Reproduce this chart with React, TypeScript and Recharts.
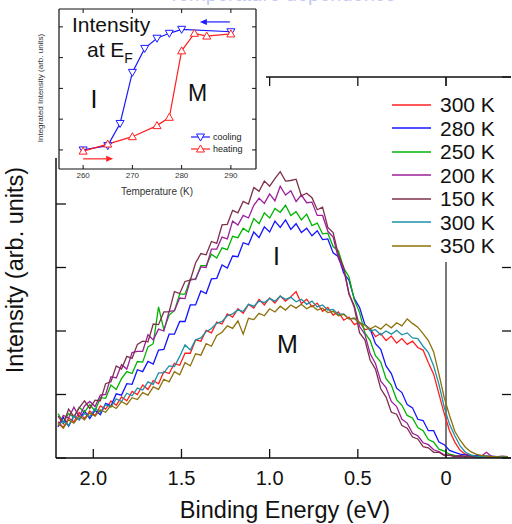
import React from 'react';
import { LineChart, Line, XAxis, YAxis, ReferenceLine, Legend } from 'recharts';

const FONT = '"Liberation Sans", Arial, Helvetica, sans-serif';

// ---------- main panel data ----------
const energy = [2.20,2.17,2.14,2.11,2.08,2.05,2.02,1.99,1.96,1.93,1.90,1.87,1.84,1.81,1.78,1.75,1.72,1.69,1.66,1.63,1.60,1.57,1.54,1.51,1.48,1.45,1.42,1.39,1.36,1.33,1.30,1.27,1.24,1.21,1.18,1.15,1.12,1.09,1.06,1.03,1.00,0.97,0.94,0.91,0.88,0.85,0.82,0.79,0.76,0.73,0.70,0.67,0.64,0.61,0.58,0.55,0.52,0.49,0.46,0.43,0.40,0.37,0.34,0.31,0.28,0.25,0.22,0.19,0.16,0.13,0.10,0.07,0.04,0.01,-0.02,-0.05,-0.08,-0.11,-0.14,-0.17,-0.20,-0.23,-0.26,-0.29,-0.32,-0.35];

const s300a = [0.57,0.48,0.63,0.57,0.72,0.62,0.74,0.67,0.82,0.77,
0.90,0.83,0.96,0.90,1.05,1.00,1.15,1.08,1.22,1.17,
1.36,1.33,1.49,1.46,1.65,1.65,1.86,1.84,2.01,1.97,
2.14,2.11,2.27,2.22,2.35,2.28,2.42,2.36,2.50,2.41,
2.52,2.44,2.55,2.47,2.54,2.62,2.43,2.50,2.38,2.44,
2.31,2.37,2.25,2.30,2.17,2.22,2.10,2.14,2.02,2.04,
1.91,1.96,1.85,1.92,1.81,1.88,1.79,1.84,1.74,1.70,
1.50,1.32,1.01,0.70,0.43,0.25,0.12,0.06,0.04,0.02,
0.03,0.02,0.02,0.01,0.02,0.02];

const s280 = [0.49,0.64,0.50,0.66,0.60,0.74,0.62,0.75,0.68,0.86,
0.82,1.01,0.99,1.17,1.16,1.39,1.36,1.52,1.48,1.70,
1.71,1.95,1.95,2.15,2.15,2.41,2.41,2.63,2.59,2.82,
2.83,3.04,2.99,3.18,3.17,3.39,3.36,3.56,3.47,3.64,
3.56,3.73,3.63,3.75,3.60,3.69,3.55,3.62,3.50,3.58,
3.44,3.45,3.23,3.17,2.91,2.80,2.51,2.37,2.10,2.03,
1.80,1.71,1.45,1.33,1.10,1.03,0.84,0.79,0.61,0.59,
0.43,0.43,0.25,0.21,0.12,0.09,0.06,0.05,0.03,0.04,
0.03,0.02,0.03,0.02,0.01,0.02];

const s250 = [0.70,0.56,0.70,0.64,0.80,0.72,0.84,0.74,0.95,0.94,
1.15,1.08,1.25,1.36,1.33,1.52,1.51,1.75,1.80,2.38,
2.02,2.25,2.32,2.58,2.58,2.82,2.81,3.03,3.03,3.21,
3.15,3.31,3.28,3.49,3.47,3.62,3.56,3.77,3.69,3.86,
3.78,3.93,3.87,3.98,3.82,3.88,3.75,3.84,3.66,3.70,
3.53,3.54,3.33,3.26,2.99,2.85,2.49,2.29,1.97,1.85,
1.61,1.51,1.25,1.15,0.92,0.83,0.67,0.63,0.48,0.43,
0.29,0.25,0.14,0.11,0.06,0.04,0.03,0.02,0.03,0.02,
0.02,0.03,0.01,0.02,0.02,0.01];

const s200 = [0.50,0.67,0.63,0.80,0.65,0.82,0.89,0.81,0.99,1.00,
1.28,1.26,1.47,1.40,1.66,1.68,1.68,1.94,1.86,2.03,
2.00,2.31,2.32,2.52,2.51,2.80,2.82,3.01,3.00,3.29,
3.29,3.48,3.45,3.73,3.67,3.82,3.78,3.98,4.09,4.01,
4.16,4.05,4.28,4.14,4.21,4.04,4.14,4.02,4.03,3.82,
3.82,3.57,3.48,3.14,2.97,2.58,2.40,2.07,1.95,1.64,
1.49,1.21,1.11,0.89,0.81,0.61,0.55,0.39,0.35,0.24,
0.21,0.13,0.10,0.05,0.04,0.03,0.02,0.03,0.02,0.02,
0.03,0.09,0.02,0.02,0.01,0.02];

const s150 = [0.66,0.54,0.77,0.65,0.79,0.90,0.78,0.91,0.90,1.17,
1.20,1.45,1.40,1.60,1.57,1.79,1.84,1.83,2.11,2.10,
2.30,2.30,2.62,2.59,2.78,2.80,3.07,3.22,3.20,3.41,
3.38,3.67,3.68,3.90,3.86,4.04,4.00,4.26,4.20,4.36,
4.28,4.40,4.51,4.36,4.37,4.39,4.13,4.17,4.10,3.91,
3.95,3.63,3.55,3.20,3.00,2.59,2.37,1.97,1.86,1.54,
1.40,1.09,0.96,0.72,0.69,0.51,0.47,0.33,0.30,0.18,
0.16,0.09,0.09,0.04,0.05,0.02,0.04,0.02,0.03,0.02,
0.01,0.03,0.02,0.02,0.03,0.02];

const s300b = [0.52,0.58,0.51,0.66,0.60,0.70,0.65,0.78,0.72,0.84,
0.80,0.93,0.89,1.02,0.98,1.10,1.07,1.20,1.16,1.34,
1.34,1.45,1.44,1.60,1.78,1.70,1.86,1.89,1.99,2.04,
2.12,2.15,2.24,2.27,2.33,2.31,2.42,2.39,2.47,2.45,
2.51,2.47,2.55,2.50,2.53,2.46,2.50,2.42,2.47,2.38,
2.41,2.33,2.34,2.26,2.27,2.19,2.20,2.12,2.10,2.00,
2.02,1.94,2.00,1.95,2.01,1.94,1.97,1.89,1.88,1.76,
1.66,1.45,1.16,0.80,0.53,0.35,0.19,0.09,0.05,0.03,
0.02,0.03,0.02,0.01,0.02,0.01];

const s350 = [0.55,0.47,0.60,0.55,0.66,0.60,0.71,0.66,0.76,0.72,
0.83,0.78,0.89,0.84,0.95,0.92,1.03,0.99,1.12,1.08,
1.24,1.20,1.36,1.31,1.50,1.45,1.64,1.62,1.80,1.76,
1.93,1.98,2.08,2.04,2.16,1.95,2.20,2.18,2.28,2.24,
2.35,2.30,2.39,2.33,2.41,2.36,2.42,2.35,2.40,2.33,
2.36,2.29,2.31,2.24,2.26,2.19,2.20,2.13,2.09,2.03,
2.08,2.03,2.11,2.05,2.13,2.08,2.19,2.12,2.06,1.96,
1.85,1.67,1.32,0.95,0.67,0.42,0.28,0.17,0.10,0.06,
0.04,0.03,0.02,0.02,0.01,0.02];

const seriesKeys = ['r300', 'b280', 'g250', 'p200', 'm150', 't300', 'o350'];
const seriesNames = ['300 K', '280 K', '250 K', '200 K', '150 K', '300 K', '350 K'];
const seriesValues = [s300a, s280, s250, s200, s150, s300b, s350];
const xTicks = [0, 0.5, 1, 1.5, 2];
const yTicks = [0, 1, 2, 3, 4, 5, 6];

// ---------- inset data ----------
const coolT = [260, 265, 267.5, 270, 272.5, 275, 277.5, 280, 290];
const coolI = [0, 0.14, 0.86, 2.52, 3.30, 3.63, 3.79, 3.92, 3.84];
const heatT = [260, 265, 270, 275, 277.5, 280, 282.6, 285.1, 290];
const heatI = [-0.04, 0.19, 0.43, 0.79, 1.06, 3.22, 3.79, 3.70, 3.77];
const insetXTicks = [260, 270, 280, 290];
const insetYTicks = [0, 1, 2, 3, 4];
const insetNames = ['cooling', 'heating'];

// ---------- styles ----------
const COLORS = ['#ff1f1f', '#1414ff', '#00b300', '#9c1f9c', '#7f3049', '#1c90a8', '#8c700a'];
const AX = '#111';
const BLUE = '#1a1aff';
const RED = '#ff2020';
const INSET_COLORS = [BLUE, RED];

const mainData = energy.map((e, i) => {
  const row: Record<string, number> = { e };
  seriesKeys.forEach((k, j) => { row[k] = seriesValues[j][i]; });
  return row;
});
const coolData = coolT.map((t, i) => ({ t, v: coolI[i] }));
const heatData = heatT.map((t, i) => ({ t, v: heatI[i] }));

const fmtX = (v: number) => (v === 0 ? '0' : v.toFixed(1));
const blank = () => '';

const DownTri = (p: any) => {
  const { cx, cy } = p;
  if (cx == null || cy == null) return <g />;
  return <path d={`M${cx - 4},${cy - 3} L${cx + 4},${cy - 3} L${cx},${cy + 4} Z`} fill="#fff" stroke={BLUE} strokeWidth={1} />;
};
const UpTri = (p: any) => {
  const { cx, cy } = p;
  if (cx == null || cy == null) return <g />;
  return <path d={`M${cx - 4},${cy + 3} L${cx + 4},${cy + 3} L${cx},${cy - 4} Z`} fill="#fff" stroke={RED} strokeWidth={1} />;
};

const arrowShape = (color: string) => (props: any) => {
  const { x1, y1, x2, y2 } = props;
  if ([x1, y1, x2, y2].some((v) => v == null || Number.isNaN(v))) return <g />;
  const dx = x2 - x1, dy = y2 - y1;
  const len = Math.sqrt(dx * dx + dy * dy) || 1;
  const ux = dx / len, uy = dy / len;
  const bx = x2 - ux * 7, by = y2 - uy * 7;
  const px = -uy * 3, py = ux * 3;
  return (
    <g>
      <line x1={x1} y1={y1} x2={bx} y2={by} stroke={color} strokeWidth={1.2} />
      <polygon points={`${x2},${y2} ${bx + px},${by + py} ${bx - px},${by - py}`} fill={color} />
    </g>
  );
};

const MainLegend = () => (
  <div style={{ background: '#fff', paddingTop: 7, paddingBottom: 4 }}>
    {seriesNames.map((name, i) => (
      <div key={i} style={{ display: 'flex', alignItems: 'center', height: 23.5 }}>
        <svg width={50} height={6} style={{ flex: 'none' }}>
          <line x1={2} x2={41} y1={3} y2={3} stroke={COLORS[i]} strokeWidth={1.6} />
        </svg>
        <span style={{ fontFamily: FONT, fontSize: 21, color: '#111', lineHeight: '23.5px', whiteSpace: 'nowrap' }}>{name}</span>
      </div>
    ))}
  </div>
);

const InsetLegend = () => (
  <svg width={70} height={26}>
    {insetNames.map((name, i) => {
      const y = 6 + i * 12;
      const cx = 12.5;
      const color = INSET_COLORS[i];
      const tri = i === 0
        ? `M${cx - 4},${y - 3} L${cx + 4},${y - 3} L${cx},${y + 4} Z`
        : `M${cx - 4},${y + 3} L${cx + 4},${y + 3} L${cx},${y - 4} Z`;
      return (
        <g key={i}>
          <line x1={3} x2={22} y1={y} y2={y} stroke={color} strokeWidth={1.2} />
          <path d={tri} fill="#fff" stroke={color} strokeWidth={1} />
          <text x={25} y={y + 3} fontSize={9} fontFamily={FONT} fill="#222">{name}</text>
        </g>
      );
    })}
  </svg>
);

export default function App() {
  const axisCommon = {
    stroke: AX,
    axisLine: { stroke: AX, strokeWidth: 1.5 },
    tickLine: { stroke: AX, strokeWidth: 1.3 },
  };
  return (
    <div style={{ position: 'absolute', left: 0, top: 0, width: 512, height: 524, background: '#fff', overflow: 'hidden' }}>
      {/* main panel */}
      <div style={{ position: 'absolute', left: 0, top: 0 }}>
        <LineChart width={512} height={524} data={mainData} margin={{ top: 67, right: 0, bottom: 36, left: 46 }}>
          <XAxis xAxisId="b" type="number" dataKey="e" domain={[-0.3686, 2.2115]} reversed allowDataOverflow
            ticks={xTicks} tickFormatter={fmtX} height={30} tickSize={-9} tickMargin={22}
            tick={{ fontSize: 20, fill: '#111', fontFamily: FONT }} {...axisCommon} />
          <XAxis xAxisId="t" orientation="top" type="number" dataKey="e" domain={[-0.3686, 2.2115]} reversed allowDataOverflow
            ticks={xTicks} tickFormatter={blank} height={10} tickSize={-9} {...axisCommon} />
          <YAxis yAxisId="l" type="number" domain={[0, 6]} ticks={yTicks} tickFormatter={blank} width={10} tickSize={-10} allowDataOverflow {...axisCommon} />
          <YAxis yAxisId="r" orientation="right" type="number" domain={[0, 6]} ticks={yTicks} tickFormatter={blank} width={1} tickSize={-9}
            allowDataOverflow stroke={AX} axisLine={false} tickLine={{ stroke: AX, strokeWidth: 1.3 }} />
          <ReferenceLine xAxisId="b" yAxisId="l" x={0} stroke="#333" strokeWidth={1.3} />
          {seriesKeys.map((k, j) => (
            <Line key={k} xAxisId="b" yAxisId="l" type="linear" dataKey={k} name={seriesNames[j]} stroke={COLORS[j]}
              strokeWidth={1.3} dot={false} activeDot={false} isAnimationActive={false} />
          ))}
          <Legend layout="vertical" align="center" verticalAlign="middle" content={MainLegend}
            wrapperStyle={{ left: 390, top: 86, width: 121, height: 'auto' }} />
        </LineChart>
      </div>

      {/* inset background */}
      <div style={{ position: 'absolute', left: 0, top: 0, width: 266, height: 158, background: '#fff' }} />

      {/* inset */}
      <div style={{ position: 'absolute', left: 0, top: 0 }}>
        <LineChart width={265} height={200} margin={{ top: 8, right: 8, bottom: 11, left: 58 }}>
          <XAxis xAxisId="b" type="number" dataKey="t" domain={[255.1, 295.1]} ticks={insetXTicks} allowDataOverflow
            height={20} tickSize={-4} tickMargin={7} tick={{ fontSize: 8, fill: '#333', fontFamily: FONT }}
            stroke={AX} axisLine={{ stroke: AX, strokeWidth: 1.2 }} tickLine={{ stroke: AX }} />
          <XAxis xAxisId="t" orientation="top" type="number" dataKey="t" domain={[255.1, 295.1]} ticks={insetXTicks} allowDataOverflow
            height={1} tickSize={-4} tickFormatter={blank} stroke={AX} axisLine={{ stroke: AX, strokeWidth: 1.2 }} tickLine={{ stroke: AX }} />
          <YAxis yAxisId="l" type="number" domain={[-0.62, 4.58]} ticks={insetYTicks} allowDataOverflow width={1} tickSize={-4}
            tickFormatter={blank} stroke={AX} axisLine={{ stroke: AX, strokeWidth: 1.2 }} tickLine={{ stroke: AX }} />
          <YAxis yAxisId="r" orientation="right" type="number" domain={[-0.62, 4.58]} ticks={insetYTicks} allowDataOverflow width={1} tickSize={-4}
            tickFormatter={blank} stroke={AX} axisLine={{ stroke: AX, strokeWidth: 1.2 }} tickLine={{ stroke: AX }} />
          <ReferenceLine xAxisId="b" yAxisId="l" segment={[{ x: 289.8, y: 4.16 }, { x: 283.7, y: 4.16 }]} stroke={BLUE} shape={arrowShape(BLUE)} />
          <ReferenceLine xAxisId="b" yAxisId="l" segment={[{ x: 260, y: -0.29 }, { x: 266.1, y: -0.29 }]} stroke={RED} shape={arrowShape(RED)} />
          <Line xAxisId="b" yAxisId="l" data={coolData} dataKey="v" name={insetNames[0]} stroke={BLUE} strokeWidth={1.2}
            dot={DownTri} activeDot={false} isAnimationActive={false} />
          <Line xAxisId="b" yAxisId="l" data={heatData} dataKey="v" name={insetNames[1]} stroke={RED} strokeWidth={1.2}
            dot={UpTri} activeDot={false} isAnimationActive={false} />
          <Legend layout="vertical" align="center" verticalAlign="middle" content={InsetLegend}
            wrapperStyle={{ left: 188, top: 131, width: 70, height: 26 }} />
        </LineChart>
      </div>

      {/* texts */}
      <svg width={512} height={524} style={{ position: 'absolute', left: 0, top: 0, pointerEvents: 'none' }}>
        <text x={168} y={1} fontSize={20} fontFamily={FONT} fill="#c4c8f4">Temperature dependence</text>
        <text x={72} y={32} fontSize={21} fontFamily={FONT} fill="#111">Intensity</text>
        <text x={87} y={57} fontSize={21} fontFamily={FONT} fill="#111">at E<tspan fontSize={14} dy={6}>F</tspan></text>
        <text x={94} y={108} fontSize={25} fontFamily={FONT} fill="#111" textAnchor="middle">I</text>
        <text x={197.5} y={101} fontSize={23} fontFamily={FONT} fill="#111" textAnchor="middle">M</text>
        <text x={40} y={88} fontSize={8} fontFamily={FONT} fill="#333" textAnchor="middle" transform="rotate(-90 40 88)" dominantBaseline="central">Integrated Intensity (arb. units)</text>
        <text x={157} y={194.5} fontSize={10} fontFamily={FONT} fill="#333" textAnchor="middle">Temperature (K)</text>
        <text x={276.5} y={265} fontSize={25} fontFamily={FONT} fill="#111" textAnchor="middle">I</text>
        <text x={287.5} y={353} fontSize={25} fontFamily={FONT} fill="#111" textAnchor="middle">M</text>
        <text x={23} y={270} fontSize={23.5} fontFamily={FONT} fill="#111" textAnchor="middle" transform="rotate(-90 23 270)">Intensity (arb. units)</text>
        <text x={285} y={518} fontSize={23.5} fontFamily={FONT} fill="#111" textAnchor="middle">Binding Energy (eV)</text>
      </svg>
    </div>
  );
}
